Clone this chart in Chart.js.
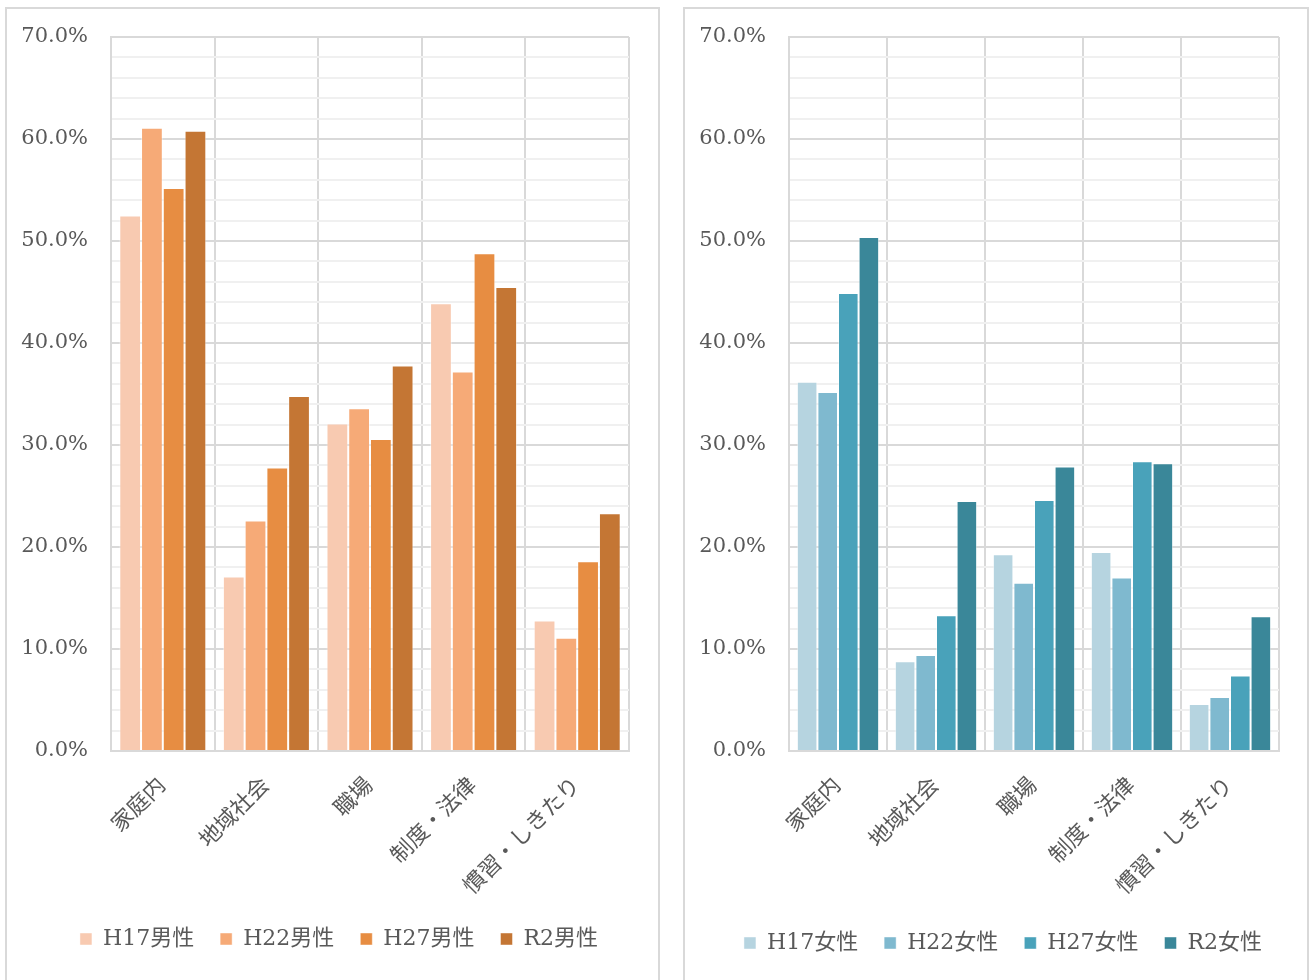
<!DOCTYPE html>
<html>
<head>
<meta charset="utf-8">
<script src="https://cdn.jsdelivr.net/npm/chart.js@4"></script>
<style>
  body { margin: 0; background: #fff; width: 1311px; height: 980px; overflow: hidden; position: relative; }
  .panel { position: absolute; top: 7px; height: 990px; border: 2px solid #d9d9d9; box-sizing: border-box; background: #fff; }
  #p1 { left: 5px; width: 655px; }
  #p2 { left: 683px; width: 626px; }
</style>
</head>
<body>
<div class="panel" id="p1"><canvas id="c1"></canvas></div>
<div class="panel" id="p2"><canvas id="c2"></canvas></div>
<script>
const categories = ["家庭内", "地域社会", "職場", "制度・法律", "慣習・しきたり"];

const maleLabels = ["H17男性", "H22男性", "H27男性", "R2男性"];
const maleH17 = [52.5, 17.1, 32.1, 43.9, 12.8];
const maleH22 = [61.1, 22.6, 33.6, 37.2, 11.1];
const maleH27 = [55.2, 27.8, 30.6, 48.8, 18.6];
const maleR2 = [60.8, 34.8, 37.8, 45.5, 23.3];
const maleColors = ["#F8CAB1", "#F6AA77", "#E78D42", "#C47634"];

const femaleLabels = ["H17女性", "H22女性", "H27女性", "R2女性"];
const femaleH17 = [36.2, 8.8, 19.3, 19.5, 4.6];
const femaleH22 = [35.2, 9.4, 16.5, 17.0, 5.3];
const femaleH27 = [44.9, 13.3, 24.6, 28.4, 7.4];
const femaleR2 = [50.4, 24.5, 27.9, 28.2, 13.2];
const femaleColors = ["#B6D4E0", "#7FB9CF", "#49A2BA", "#3A8799"];

const yMax = 70;
const yStep = 2;

const fontFam = "'DejaVu Serif', 'Noto Sans CJK JP', serif";
const textColor = "#595959";

// nudge the legend to the right, Excel centres it a bit further over
const legendShift = {
    id: 'legendShift',
    afterLayout(chart) {
        if (chart.legend) {
            chart.legend.left += 21;
            chart.legend.right += 21;
        }
    }
};

function makeChart(id, labels, series, colors, padRight, padBottom, xHeight) {
    const datasets = series.map((vals, i) => ({
        label: labels[i],
        data: vals,
        backgroundColor: colors[i],
        borderColor: "rgba(255,255,255,0.45)",
        borderWidth: 1,
        categoryPercentage: 0.84,
        barPercentage: 1.0
    }));
    return new Chart(document.getElementById(id), {
        type: 'bar',
        data: { labels: categories, datasets: datasets },
        plugins: [legendShift],
        options: {
            responsive: true,
            maintainAspectRatio: false,
            animation: false,
            layout: { padding: { left: 0, top: 28, right: padRight, bottom: padBottom } },
            scales: {
                x: {
                    afterFit: (s) => { s.height = xHeight; },
                    grid: { color: "#d9d9d9", lineWidth: 2, drawTicks: false, offset: true },
                    border: { color: "#d9d9d9", width: 2 },
                    ticks: {
                        color: textColor,
                        font: { family: fontFam, size: 22 },
                        minRotation: 45,
                        maxRotation: 45,
                        padding: 22,
                        autoSkip: false
                    }
                },
                y: {
                    min: 0,
                    max: yMax,
                    afterFit: (s) => { s.width = 104; s.paddingTop = 10; },
                    grid: {
                        drawTicks: false,
                        color: (ctx) => (ctx.tick.value % 10 === 0 ? "#d9d9d9" : "#f0f0f0"),
                        lineWidth: 2
                    },
                    border: { color: "#d9d9d9", width: 2 },
                    ticks: {
                        stepSize: yStep,
                        autoSkip: false,
                        padding: 23,
                        color: textColor,
                        font: { family: fontFam, size: 21 },
                        callback: (v) => (v % 10 === 0 ? v.toFixed(1) + "%" : "")
                    }
                }
            },
            plugins: {
                legend: {
                    position: 'bottom',
                    labels: {
                        boxWidth: 12,
                        boxHeight: 12,
                        padding: 26,
                        color: textColor,
                        font: { family: fontFam, size: 22 }
                    }
                },
                tooltip: { enabled: false }
            }
        }
    });
}

makeChart('c1', maleLabels, [maleH17, maleH22, maleH27, maleR2], maleColors, 29, 35, 151);
makeChart('c2', femaleLabels, [femaleH17, femaleH22, femaleH27, femaleR2], femaleColors, 28, 31, 155);
</script>
</body>
</html>
